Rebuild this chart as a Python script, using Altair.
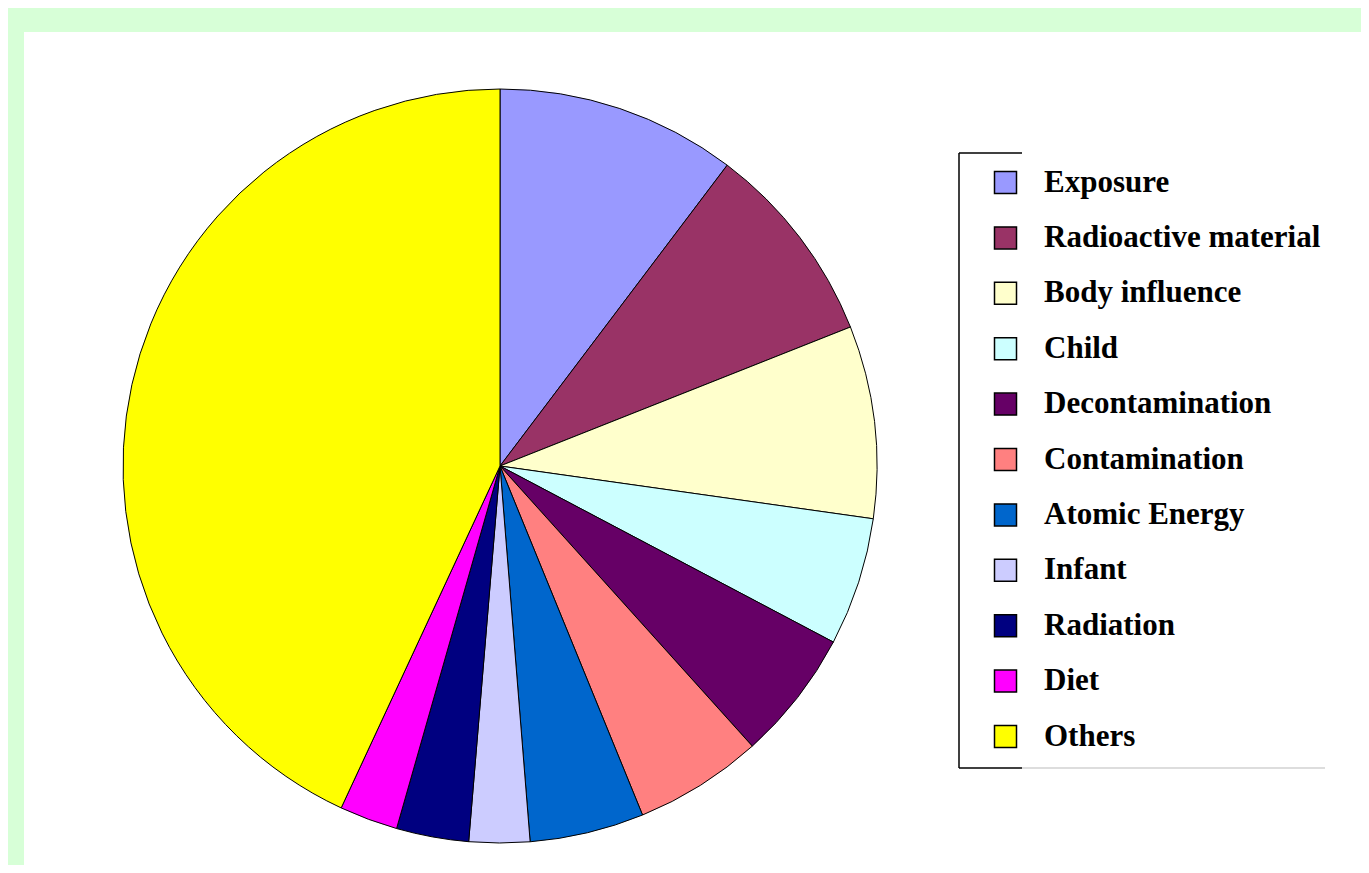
import altair as alt
import pandas as pd

categories = ["Exposure", "Radioactive material", "Body influence", "Child",
              "Decontamination", "Contamination", "Atomic Energy", "Infant",
              "Radiation", "Diet", "Others"]
values = [10.3, 8.7, 8.25, 5.5, 5.6, 5.5, 4.9, 2.6, 3.1, 2.5, 43.1]
colors = ["#9999FF", "#993366", "#FFFFCC", "#CCFFFF", "#660066", "#FF8080",
          "#0066CC", "#CCCCFF", "#000080", "#FF00FF", "#FFFF00"]

df = pd.DataFrame({"category": categories, "value": values,
                   "idx": list(range(len(categories)))})

pie = alt.Chart(df).mark_arc(radius=377, stroke="black", strokeWidth=1).encode(
    theta=alt.Theta("value:Q", stack=True),
    color=alt.Color("category:N", sort=categories,
                    scale=alt.Scale(domain=categories, range=colors),
                    legend=alt.Legend(title=None, orient="none",
                                      legendX=966, legendY=135,
                                      padding=0)),
    order=alt.Order("idx:Q"),
    x=alt.value(476),
    y=alt.value(434),
)

one = pd.DataFrame({"a": [0]})


def rule(x1, x2, y1, y2, color="black", w=1.5):
    return alt.Chart(one).mark_rule(color=color, strokeWidth=w).encode(
        x=alt.value(x1), x2=alt.value(x2), y=alt.value(y1), y2=alt.value(y2))


frame = (rule(935, 935, 121, 736) + rule(935, 998, 121, 121)
         + rule(935, 998, 736, 736) + rule(998, 1301, 736, 736, "#BBBBBB", 1))

chart = alt.layer(pie, frame).properties(
    width=1353, height=857,
    autosize=alt.AutoSizeParams(type="fit", contains="padding"),
    padding={"left": 16, "top": 24, "right": 0, "bottom": 0},
    background="#D7FFD7",
).configure_view(fill="white", stroke=None).configure_legend(
    labelFont="Liberation Serif", labelFontWeight="bold", labelFontSize=31,
    labelColor="black", labelLimit=400, labelOffset=23,
    symbolType="square", symbolSize=484, symbolStrokeColor="black",
    symbolStrokeWidth=1.5, symbolOpacity=1, rowPadding=23.4,
)

chart.save("out.html", embed_options={"renderer": "svg", "actions": False})
